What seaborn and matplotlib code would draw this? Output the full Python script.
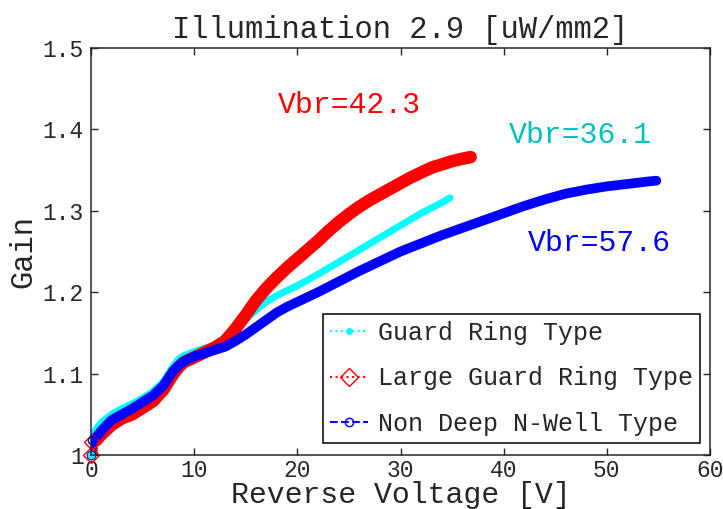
import numpy as np
import pandas as pd
import matplotlib
matplotlib.use("Agg")
import matplotlib.pyplot as plt
from matplotlib.lines import Line2D
from matplotlib.ticker import FormatStrFormatter
import seaborn as sns

# Guard Ring Type (cyan)
v_gr = [0, 0.1, 0.5, 1, 2, 3, 4, 5, 6, 7, 8, 8.5, 9, 10, 11, 12, 13, 14, 15, 16,
        17, 18, 19, 20, 22, 24, 26, 28, 30, 32, 34, 34.8]
g_gr = [1.0, 1.02, 1.032, 1.04, 1.05, 1.057, 1.063, 1.07, 1.078, 1.09, 1.11, 1.118,
        1.122, 1.127, 1.131, 1.135, 1.145, 1.155, 1.167, 1.178, 1.188, 1.196, 1.202,
        1.208, 1.222, 1.237, 1.252, 1.267, 1.282, 1.297, 1.31, 1.316]

# Large Guard Ring Type (red)
v_lgr = [0, 0.1, 0.5, 1, 2, 3, 4, 5, 6, 7, 8, 8.5, 9, 10, 11, 12, 13, 14, 15, 16,
         17, 18, 19, 20, 21, 22, 23, 24, 25, 26, 27, 28, 29, 30, 31, 32, 33, 34, 35,
         36, 36.8]
g_lgr = [1.0, 1.016, 1.018, 1.025, 1.037, 1.045, 1.05, 1.058, 1.066, 1.08, 1.1, 1.108,
         1.114, 1.12, 1.126, 1.132, 1.14, 1.155, 1.172, 1.19, 1.205, 1.218, 1.23,
         1.241, 1.252, 1.263, 1.275, 1.286, 1.296, 1.305, 1.313, 1.32, 1.327, 1.334,
         1.341, 1.347, 1.353, 1.357, 1.361, 1.364, 1.366]

# Non Deep N-Well Type (blue)
v_nd = [0, 0.1, 0.5, 1, 2, 3, 4, 5, 6, 7, 8, 8.5, 9, 10, 11, 12, 13, 14, 15, 16, 17,
        18, 19, 20, 22, 24, 26, 28, 30, 32, 34, 36, 38, 40, 42, 44, 46, 48, 50, 52,
        54, 54.8]
g_nd = [1.0, 1.018, 1.022, 1.03, 1.043, 1.05, 1.057, 1.065, 1.073, 1.085, 1.104, 1.11,
        1.115, 1.121, 1.125, 1.129, 1.133, 1.14, 1.148, 1.157, 1.166, 1.175, 1.182,
        1.188, 1.2, 1.213, 1.226, 1.238, 1.25, 1.26, 1.27, 1.279, 1.288, 1.297, 1.306,
        1.314, 1.321, 1.326, 1.33, 1.333, 1.336, 1.337]

labels = ["Guard Ring Type", "Large Guard Ring Type", "Non Deep N-Well Type"]
vbr_text = ["Vbr=36.1", "Vbr=42.3", "Vbr=57.6"]

sns.set_style("ticks")
plt.rcParams['font.family'] = ['Liberation Mono', 'DejaVu Sans Mono']

fig = plt.figure(figsize=(7.23, 5.09), dpi=100)
ax = fig.add_axes([91/723, 54/509, 619/723, 407/509])

# thick bands made of the dense measurement points
sns.lineplot(x=v_gr, y=g_gr, color='#00ffff', linewidth=5, sort=False,
             estimator=None, ax=ax, solid_capstyle='round')
sns.lineplot(x=v_lgr, y=g_lgr, color='#ff0000', linewidth=9, sort=False,
             estimator=None, ax=ax, solid_capstyle='round')
sns.lineplot(x=v_nd, y=g_nd, color='#0000ff', linewidth=7, sort=False,
             estimator=None, ax=ax, solid_capstyle='round')

# first points at 0 V
ax.plot(v_lgr[:2], g_lgr[:2], ls='none', marker='D', ms=8, mfc='none', mec='red', clip_on=False)
ax.plot(v_nd[:2], g_nd[:2], ls='none', marker='o', ms=6, mfc='none', mec='blue', clip_on=False)
ax.plot(v_gr[:1], g_gr[:1], ls='none', marker='.', ms=9, color='#00ffff', clip_on=False)

ax.text(40.5, 1.393, vbr_text[0], color='#00bfbf', fontsize=21.5, va='center')
ax.text(18.1, 1.43, vbr_text[1], color='red', fontsize=21.5, va='center')
ax.text(42.3, 1.26, vbr_text[2], color='blue', fontsize=21.5, va='center')

ax.set_xlim(0, 60)
ax.set_ylim(1, 1.5)
ax.set_xticks(np.arange(0, 61, 10))
ax.set_yticks(np.arange(1, 1.51, 0.1))
ax.yaxis.set_major_formatter(FormatStrFormatter('%g'))
ax.tick_params(direction='in', length=5, width=1, labelsize=16.5,
               top=True, right=True, pad=5)
ax.tick_params(axis='x', pad=3)
for s in ax.spines.values():
    s.set_linewidth(1.1)
    s.set_visible(True)

ax.set_title("Illumination 2.9 [uW/mm2]", fontsize=22, pad=7)
ax.set_xlabel("Reverse Voltage [V]", fontsize=21.5, labelpad=-1)
ax.set_ylabel("Gain", fontsize=22, labelpad=3)

handles = [
    Line2D([], [], color='#00ffff', ls=':', marker='.', ms=8),
    Line2D([], [], color='red', ls=':', marker='D', ms=9, mfc='none'),
    Line2D([], [], color='blue', ls='--', marker='o', ms=6, mfc='none'),
]
leg = ax.legend(handles, labels, loc='lower right', bbox_to_anchor=(0.984, 0.029),
                borderaxespad=0, fontsize=18, frameon=True, fancybox=False,
                handlelength=1.5, handletextpad=0.4, labelspacing=0.85, borderpad=0.3)
leg.get_frame().set_edgecolor('black')
leg.get_frame().set_linewidth(1.1)
leg.get_frame().set_alpha(1)

fig.savefig("out.png", dpi=100)
